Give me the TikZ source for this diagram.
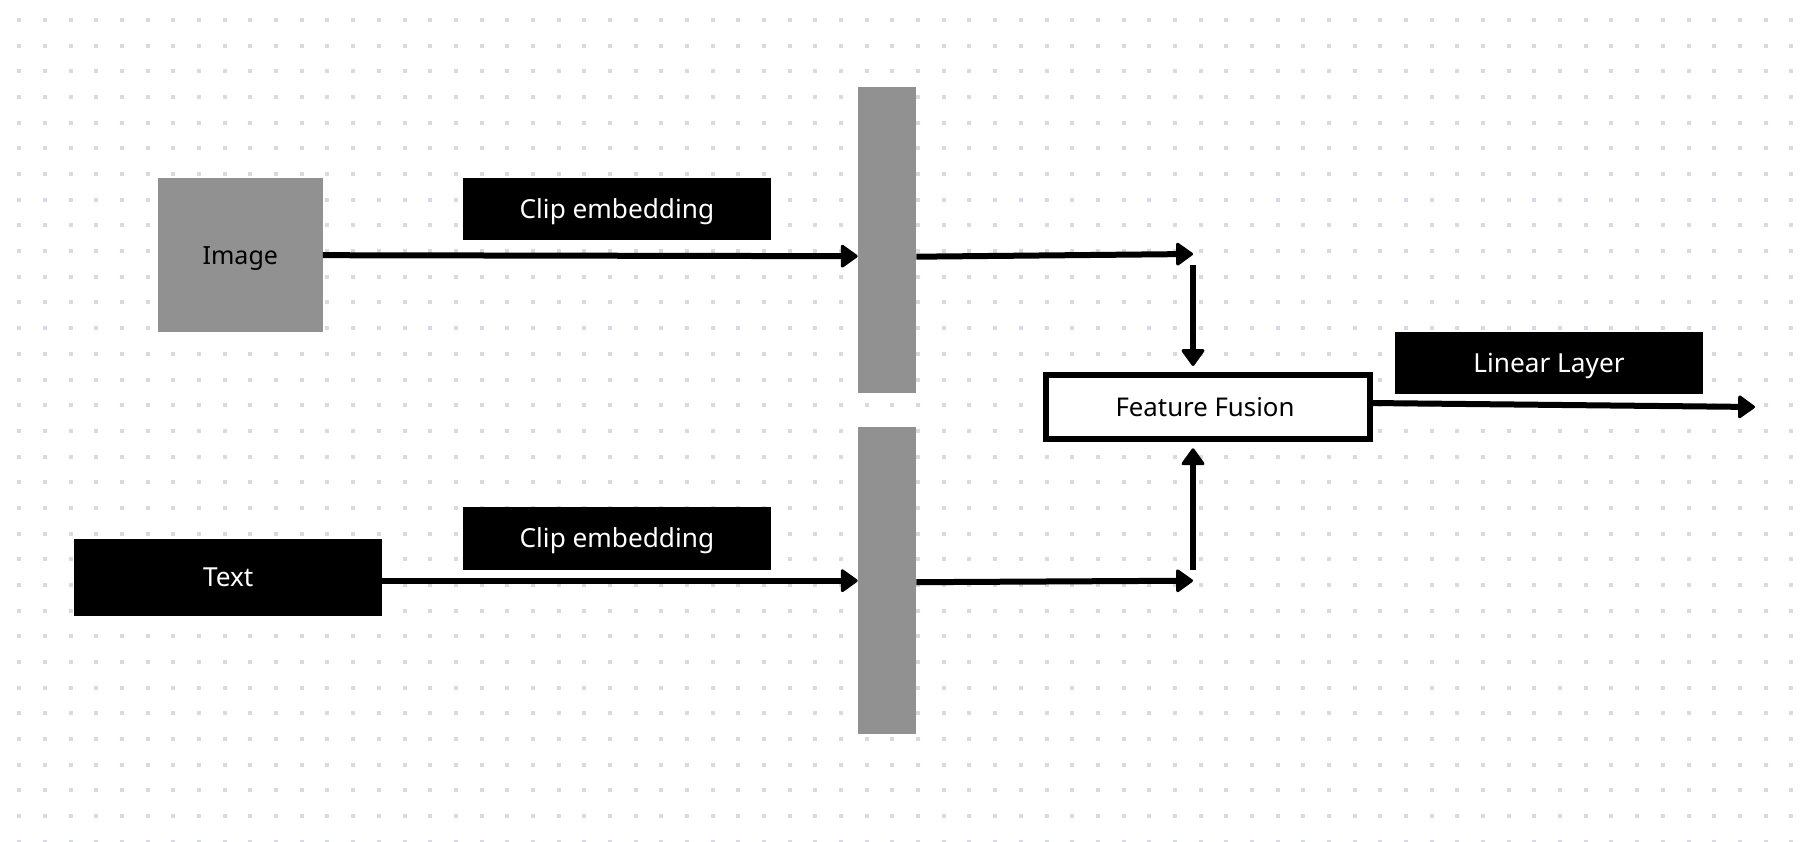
\documentclass[tikz,border=0pt]{standalone}
\usepackage{fontspec}
\setmainfont{Noto Sans}
\usetikzlibrary{arrows.meta,calc}
\definecolor{dotc}{HTML}{D8D9E2}
\definecolor{boxgray}{HTML}{919191}
\begin{document}
\begin{tikzpicture}[x=1pt,y=-1pt,
  every node/.style={inner sep=0pt,outer sep=0pt},
  graybox/.style={fill=boxgray,minimum width=#1},
  blackbox/.style={fill=black,text=white,font=\fontsize{26.2}{30}\selectfont,text height=18.5pt,text depth=0pt},
  fusebox/.style={draw=black,line width=6pt,fill=white,font=\fontsize{25.8}{30}\selectfont,text height=18.2pt,text depth=0pt},
  arr/.style={line width=6pt,-{Triangle[length=18pt,width=25pt,round,line width=3pt]}}]
\useasboundingbox (0,0) rectangle (1812,842);
\fill[white] (0,0) rectangle (1812,842);
% dot grid
\foreach \i in {0,...,69}{
  \foreach \j in {0,...,32}{
    \fill[dotc] ({19.3+25.68*\i-2},{20+25.68*\j-2}) rectangle ++(4,4);
  }
}
% nodes
\node[graybox=165pt,minimum height=154pt,font=\fontsize{25}{30}\selectfont,text height=17.8pt,text depth=0pt] (img) at (240.3,255.2) {Image};
\node[blackbox,minimum width=308.3pt,minimum height=62.3pt] (clip1) at (616.9,208.9) {Clip embedding};
\node[graybox=58.6pt,minimum height=306.6pt] (bar1) at (887,240) {};
\node[graybox=58.6pt,minimum height=306.7pt] (bar2) at (887,580.7) {};
\node[blackbox,minimum width=307.7pt,minimum height=76.7pt] (txt) at (228.2,577.4) {Text};
\node[blackbox,minimum width=308.3pt,minimum height=62.3pt] (clip2) at (616.9,538.5) {Clip embedding};
\node[fusebox,minimum width=323.4pt,minimum height=63.4pt] (ff) at (1208,407) {\hspace*{-6pt}Feature Fusion};
\node[blackbox,minimum width=308pt,minimum height=61.4pt] (lin) at (1549,363) {Linear Layer};
% free ends
\coordinate (c1) at (1193,254);
\coordinate (c1d) at (1193,265);
\coordinate (c2) at (1193,580.7);
\coordinate (c2u) at (1193,570);
\coordinate (cout) at (1755,407);
% connectors
\draw[arr] (img.east) -- ([yshift=-1pt]bar1.west |- img.east);
\draw[arr] ([yshift=-2.7pt]bar1.east |- c1) -- (c1);
\draw[arr] (c1d) -- ([yshift=9.3pt]ff.north -| c1d);
\draw[arr] (txt.east |- bar2.west) -- (bar2.west);
\draw[arr] ([yshift=-1.5pt]bar2.east) -- (c2);
\draw[arr] (c2u) -- ([yshift=-9.6pt]ff.south -| c2u);
\draw[arr] ([yshift=4pt]ff.east) -- (cout);
\end{tikzpicture}
\end{document}
